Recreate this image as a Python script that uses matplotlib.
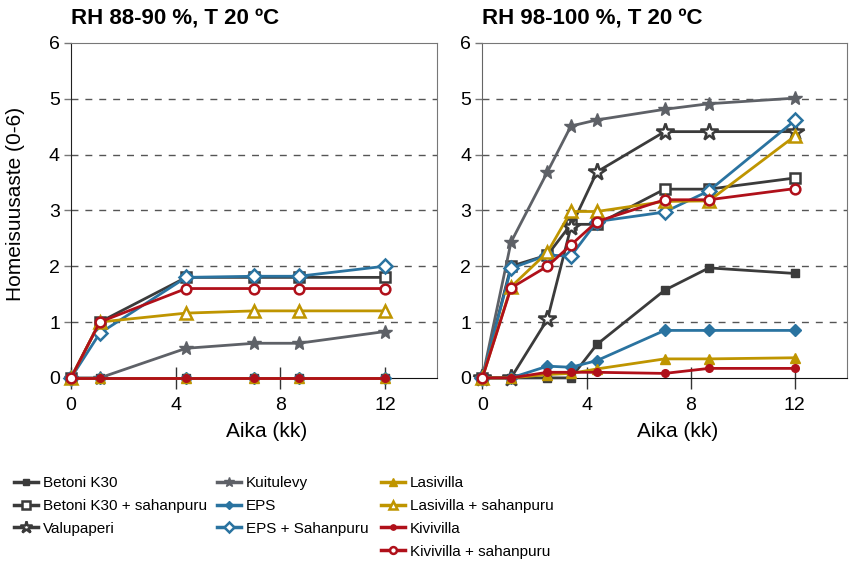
import matplotlib
matplotlib.use('Agg')
import matplotlib.pyplot as plt
from matplotlib.lines import Line2D

plt.rcParams['font.family'] = ['Liberation Sans', 'DejaVu Sans']
plt.rcParams['font.size'] = 14

# time points (months)
t_left = [0, 1.1, 4.4, 7.0, 8.7, 12.0]
t_right = [0, 1.1, 2.5, 3.4, 4.4, 7.0, 8.7, 12.0]

# RH 88-90 %
left_betoni = [0, 0, 0, 0, 0, 0]
left_betoni_s = [0, 1.0, 1.8, 1.8, 1.8, 1.8]
left_kuitulevy = [0, 0, 0.53, 0.62, 0.62, 0.83]
left_eps = [0, 0, 0, 0, 0, 0]
left_eps_s = [0, 0.8, 1.8, 1.82, 1.82, 2.0]
left_lasi = [0, 0, 0, 0, 0, 0]
left_lasi_s = [0, 1.0, 1.16, 1.2, 1.2, 1.2]
left_kivi = [0, 0, 0, 0, 0, 0]
left_kivi_s = [0, 1.0, 1.6, 1.6, 1.6, 1.6]

# RH 98-100 %
right_betoni = [0, 0, 0, 0, 0.6, 1.57, 1.97, 1.87]
right_betoni_s = [0, 2.0, 2.2, 2.75, 2.75, 3.38, 3.38, 3.58]
right_valu = [0, 0, 1.05, 2.7, 3.69, 4.41, 4.41, 4.41]
right_kuitulevy = [0, 2.43, 3.69, 4.51, 4.62, 4.81, 4.91, 5.01]
right_eps = [0, 0, 0.21, 0.19, 0.31, 0.85, 0.85, 0.85]
right_eps_s = [0, 1.96, 2.2, 2.18, 2.8, 2.97, 3.35, 4.61]
right_lasi = [0, 0, 0.06, 0.08, 0.16, 0.34, 0.34, 0.36]
right_lasi_s = [0, 1.63, 2.25, 2.98, 2.98, 3.16, 3.17, 4.33]
right_kivi = [0, 0, 0.1, 0.1, 0.1, 0.08, 0.17, 0.17]
right_kivi_s = [0, 1.61, 2.0, 2.38, 2.8, 3.19, 3.19, 3.39]

labels = ['Betoni K30', 'Betoni K30 + sahanpuru', 'Valupaperi',
          'Kuitulevy', 'EPS', 'EPS + Sahanpuru',
          'Lasivilla', 'Lasivilla + sahanpuru', 'Kivivilla', 'Kivivilla + sahanpuru']

dark = '#3b3b3b'
grey = '#5e6167'
blue = '#2a73a0'
gold = '#bf9500'
red = '#b0101a'

# label -> (color, marker, size, filled)
styles = {
    'Betoni K30': (dark, 's', 6, True),
    'Betoni K30 + sahanpuru': (dark, 's', 7.5, False),
    'Valupaperi': (dark, '*', 13, False),
    'Kuitulevy': (grey, '*', 10, True),
    'EPS': (blue, 'D', 6.5, True),
    'EPS + Sahanpuru': (blue, 'D', 7, False),
    'Lasivilla': (gold, '^', 7.5, True),
    'Lasivilla + sahanpuru': (gold, '^', 9, False),
    'Kivivilla': (red, 'o', 5.5, True),
    'Kivivilla + sahanpuru': (red, 'o', 7, False),
}

left_data = {
    'Betoni K30': left_betoni,
    'Betoni K30 + sahanpuru': left_betoni_s,
    'Kuitulevy': left_kuitulevy,
    'EPS': left_eps,
    'EPS + Sahanpuru': left_eps_s,
    'Lasivilla': left_lasi,
    'Lasivilla + sahanpuru': left_lasi_s,
    'Kivivilla': left_kivi,
    'Kivivilla + sahanpuru': left_kivi_s,
}
right_data = {
    'Betoni K30': right_betoni,
    'Betoni K30 + sahanpuru': right_betoni_s,
    'Valupaperi': right_valu,
    'Kuitulevy': right_kuitulevy,
    'EPS': right_eps,
    'EPS + Sahanpuru': right_eps_s,
    'Lasivilla': right_lasi,
    'Lasivilla + sahanpuru': right_lasi_s,
    'Kivivilla': right_kivi,
    'Kivivilla + sahanpuru': right_kivi_s,
}


def style_kw(name):
    c, m, s, filled = styles[name]
    return dict(color=c, marker=m, markersize=s, linewidth=2,
                markerfacecolor=c if filled else 'white',
                markeredgecolor=c, markeredgewidth=1.8 if not filled else 1.0)


def draw(ax, t, data, title):
    for name, vals in data.items():
        ax.plot(t, vals, clip_on=False, zorder=3, **style_kw(name))
    ax.set_xlim(0, 14)
    ax.set_ylim(0, 6)
    ax.set_xticks([0, 4, 8, 12])
    ax.set_yticks(range(7))
    ax.tick_params(axis='x', direction='inout', length=16, width=1, color='#333333', pad=6)
    ax.tick_params(axis='y', direction='out', length=5, width=1, color='#777777', pad=3)
    ax.grid(axis='y', color='#555555', linestyle=(0, (5, 5)), linewidth=1)
    gl = ax.get_ygridlines()
    gl[0].set_visible(False)
    gl[-1].set_visible(False)
    ax.set_axisbelow(True)
    for s in ['top', 'right']:
        ax.spines[s].set_color('#777777')
    ax.spines['left'].set_color('#222222')
    ax.spines['bottom'].set_color('#111111')
    ax.set_title(title, loc='left', fontweight='bold', fontsize=16, pad=13)
    ax.set_xlabel('Aika (kk)', fontsize=15)
    ax.xaxis.set_label_coords(0.535, -0.132)


fig = plt.figure(figsize=(8.66, 5.64), dpi=100)
ax1 = fig.add_axes([0.082, 0.330, 0.423, 0.594])
ax2 = fig.add_axes([0.557, 0.330, 0.421, 0.594])

draw(ax1, t_left, left_data, 'RH 88-90 %, T 20 ºC')
draw(ax2, t_right, right_data, 'RH 98-100 %, T 20 ºC')
ax2.spines['left'].set_color('#666666')
ax1.set_ylabel('Homeisuusaste (0-6)', fontsize=15)
ax1.yaxis.set_label_coords(-0.125, 0.52)

handles = {}
for n in labels:
    kw = style_kw(n)
    kw['markersize'] = kw['markersize'] * 0.7
    kw['linewidth'] = 2.5
    handles[n] = Line2D([], [], **kw)

groups = [(labels[0:3], 0.016), (labels[3:6], 0.25), (labels[6:10], 0.44)]
for names, xpos in groups:
    fig.legend([handles[n] for n in names], names, loc='upper left',
               bbox_to_anchor=(xpos, 0.156), frameon=False, fontsize=11,
               handlelength=1.6, handletextpad=0.3, labelspacing=0.58,
               borderaxespad=0, borderpad=0)

fig.savefig('out.png', dpi=100)
